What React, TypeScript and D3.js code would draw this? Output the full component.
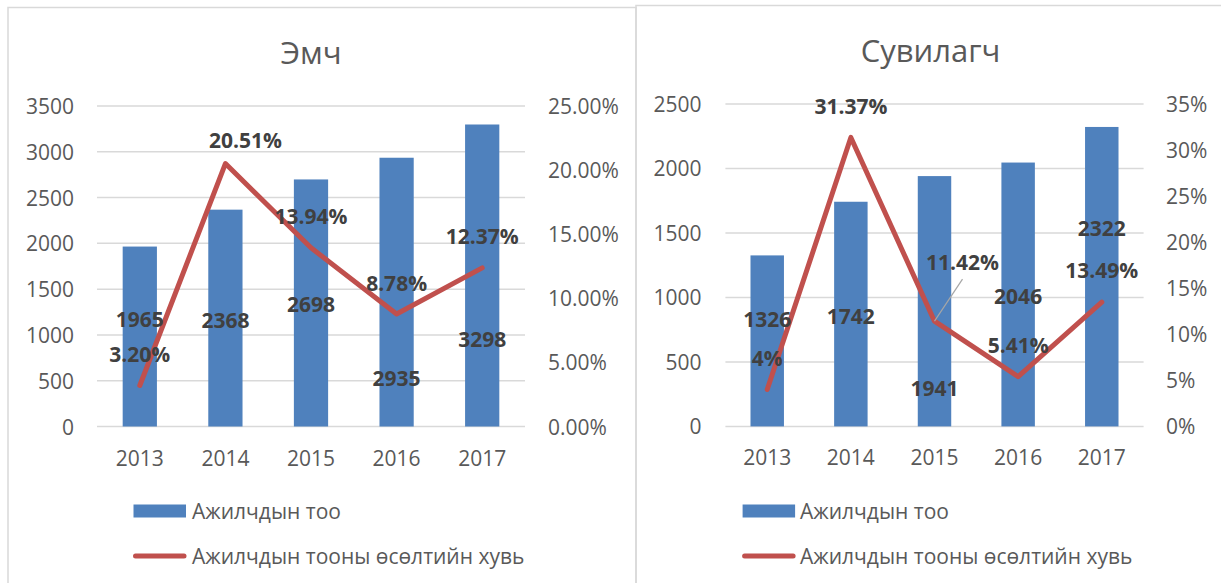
import React from 'react';
import * as d3 from 'd3';

// ---------- DATA ----------
const years = ['2013', '2014', '2015', '2016', '2017'];

const doctorTitle = 'Эмч';
const doctorCounts = [1965, 2368, 2698, 2935, 3298];
const doctorGrowth = [3.2, 20.51, 13.94, 8.78, 12.37];
const doctorCountTicks = [0, 500, 1000, 1500, 2000, 2500, 3000, 3500];
const doctorGrowthTicks = [0, 5, 10, 15, 20, 25];

const nurseTitle = 'Сувилагч';
const nurseCounts = [1326, 1742, 1941, 2046, 2322];
const nurseGrowth = [4, 31.37, 11.42, 5.41, 13.49];
const nurseCountTicks = [0, 500, 1000, 1500, 2000, 2500];
const nurseGrowthTicks = [0, 5, 10, 15, 20, 25, 30, 35];

const legendBar = 'Ажилчдын тоо';
const legendLine = 'Ажилчдын тооны өсөлтийн хувь';

// ---------- LAYOUT (label offsets in px, relative to the mark) ----------
const doctorBarLabelDy = [72, 110, 125, 220, 215];
const doctorLineLabel = [
  { dx: 0, dy: -31 },
  { dx: 20, dy: -24 },
  { dx: 0, dy: -32 },
  { dx: 0, dy: -31 },
  { dx: 0, dy: -32 },
];
const nurseBarLabelDy = [64, 114, 212, 133, 101];
const nurseLineLabel = [
  { dx: 0, dy: -32 },
  { dx: 0, dy: -31 },
  { dx: 28, dy: -59, leader: true },
  { dx: 0, dy: -32 },
  { dx: 0, dy: -32 },
];

const FONT = '"Open Sans", "Noto Sans", sans-serif';
const BLUE = '#4f81bd';
const RED = '#c0504d';
const GRID = '#d9d9d9';
const AXIS_TEXT = '#595959';
const LABEL_TEXT = '#404040';

type LineLabel = { dx: number; dy: number; leader?: boolean };

interface ChartProps {
  title: string;
  titleX: number;
  titleY: number;
  counts: number[];
  growth: number[];
  countTicks: number[];
  growthTicks: number[];
  growthFmt: (v: number) => string;
  plotLeft: number;
  plotRight: number;
  plotTop: number;
  plotBottom: number;
  leftLabelX: number;
  rightLabelX: number;
  barLabelDy: number[];
  lineLabel: LineLabel[];
  legendX: number;
  legendTextX: number;
}

function Chart(p: ChartProps) {
  const x = d3
    .scaleBand<string>()
    .domain(years)
    .range([p.plotLeft, p.plotRight])
    .paddingInner(0.6)
    .paddingOuter(0.3);
  const yL = d3
    .scaleLinear()
    .domain([0, d3.max(p.countTicks) as number])
    .range([p.plotBottom, p.plotTop]);
  const yR = d3
    .scaleLinear()
    .domain([0, d3.max(p.growthTicks) as number])
    .range([p.plotBottom, p.plotTop]);
  const cx = (y: string) => (x(y) as number) + x.bandwidth() / 2;

  const line = d3
    .line<number>()
    .x((_, i) => cx(years[i]))
    .y((d) => yR(d));

  return (
    <g fontFamily={FONT}>
      <text
        x={p.titleX}
        y={p.titleY}
        textAnchor="middle"
        dominantBaseline="central"
        fontSize={31}
        fill={AXIS_TEXT}
      >
        {p.title}
      </text>
      {p.countTicks.map((t) => (
        <g key={'g' + t}>
          <line
            x1={p.plotLeft}
            x2={p.plotRight}
            y1={yL(t)}
            y2={yL(t)}
            stroke={GRID}
            strokeWidth={1.5}
          />
          <text
            x={p.leftLabelX}
            y={yL(t)}
            textAnchor="end"
            dominantBaseline="central"
            fontSize={21}
            fill={AXIS_TEXT}
          >
            {t}
          </text>
        </g>
      ))}
      {p.growthTicks.map((t) => (
        <text
          key={'r' + t}
          x={p.rightLabelX}
          y={yR(t)}
          textAnchor="start"
          dominantBaseline="central"
          fontSize={21}
          fill={AXIS_TEXT}
        >
          {p.growthFmt(t)}
        </text>
      ))}
      {p.counts.map((v, i) => (
        <rect
          key={'b' + i}
          x={x(years[i])}
          y={yL(v)}
          width={x.bandwidth()}
          height={yL(0) - yL(v)}
          fill={BLUE}
        />
      ))}
      {years.map((y) => (
        <text
          key={'x' + y}
          x={cx(y)}
          y={p.plotBottom + 31}
          textAnchor="middle"
          dominantBaseline="central"
          fontSize={21}
          fill={AXIS_TEXT}
        >
          {y}
        </text>
      ))}
      <path
        d={line(p.growth) as string}
        fill="none"
        stroke={RED}
        strokeWidth={5}
        strokeLinejoin="round"
        strokeLinecap="round"
      />
      {p.counts.map((v, i) => (
        <text
          key={'bl' + i}
          x={cx(years[i])}
          y={yL(v) + p.barLabelDy[i]}
          textAnchor="middle"
          dominantBaseline="central"
          fontSize={21}
          fontWeight="bold"
          fill={LABEL_TEXT}
        >
          {v}
        </text>
      ))}
      {p.growth.map((v, i) => {
        const px = cx(years[i]);
        const py = yR(v);
        const o = p.lineLabel[i];
        return (
          <g key={'ll' + i}>
            {o.leader && (
              <line
                x1={px + o.dx}
                y1={py + o.dy + 17}
                x2={px}
                y2={py}
                stroke="#a6a6a6"
                strokeWidth={1.2}
              />
            )}
            <text
              x={px + o.dx}
              y={py + o.dy}
              textAnchor="middle"
              dominantBaseline="central"
              fontSize={21}
              fontWeight="bold"
              fill={LABEL_TEXT}
            >
              {p.growthFmt(v)}
            </text>
          </g>
        );
      })}
      <rect x={p.legendX} y={504.5} width={52.5} height={13} fill={BLUE} />
      <text
        x={p.legendTextX}
        y={511}
        dominantBaseline="central"
        fontSize={21}
        fill={AXIS_TEXT}
      >
        {legendBar}
      </text>
      <line
        x1={p.legendX + 2}
        x2={p.legendX + 50.5}
        y1={556}
        y2={556}
        stroke={RED}
        strokeWidth={5}
        strokeLinecap="round"
      />
      <text
        x={p.legendTextX}
        y={556}
        dominantBaseline="central"
        fontSize={21}
        fill={AXIS_TEXT}
      >
        {legendLine}
      </text>
    </g>
  );
}

const fmt2 = (v: number) => v.toFixed(2) + '%';
const fmtNurse = (v: number) => (Number.isInteger(v) ? v + '%' : v.toFixed(2) + '%');

export default function App() {
  return (
    <svg
      width={1221}
      height={583}
      style={{ position: 'absolute', left: 0, top: 0, background: '#fff' }}
    >
      <rect x={0} y={0} width={1221} height={583} fill="#fff" />
      <rect x={8} y={7.5} width={628} height={600} fill="none" stroke={GRID} strokeWidth={1.5} />
      <rect x={636} y={5.5} width={620} height={600} fill="none" stroke={GRID} strokeWidth={1.5} />
      <Chart
        title={doctorTitle}
        titleX={311}
        titleY={52}
        counts={doctorCounts}
        growth={doctorGrowth}
        countTicks={doctorCountTicks}
        growthTicks={doctorGrowthTicks}
        growthFmt={fmt2}
        plotLeft={97}
        plotRight={525}
        plotTop={106}
        plotBottom={426.5}
        leftLabelX={74}
        rightLabelX={548}
        barLabelDy={doctorBarLabelDy}
        lineLabel={doctorLineLabel}
        legendX={133.5}
        legendTextX={192}
      />
      <Chart
        title={nurseTitle}
        titleX={930.5}
        titleY={50}
        counts={nurseCounts}
        growth={nurseGrowth}
        countTicks={nurseCountTicks}
        growthTicks={nurseGrowthTicks}
        growthFmt={fmtNurse}
        plotLeft={725.4}
        plotRight={1143.6}
        plotTop={104}
        plotBottom={426.4}
        leftLabelX={701.6}
        rightLabelX={1166}
        barLabelDy={nurseBarLabelDy}
        lineLabel={nurseLineLabel}
        legendX={742.6}
        legendTextX={800}
      />
    </svg>
  );
}
